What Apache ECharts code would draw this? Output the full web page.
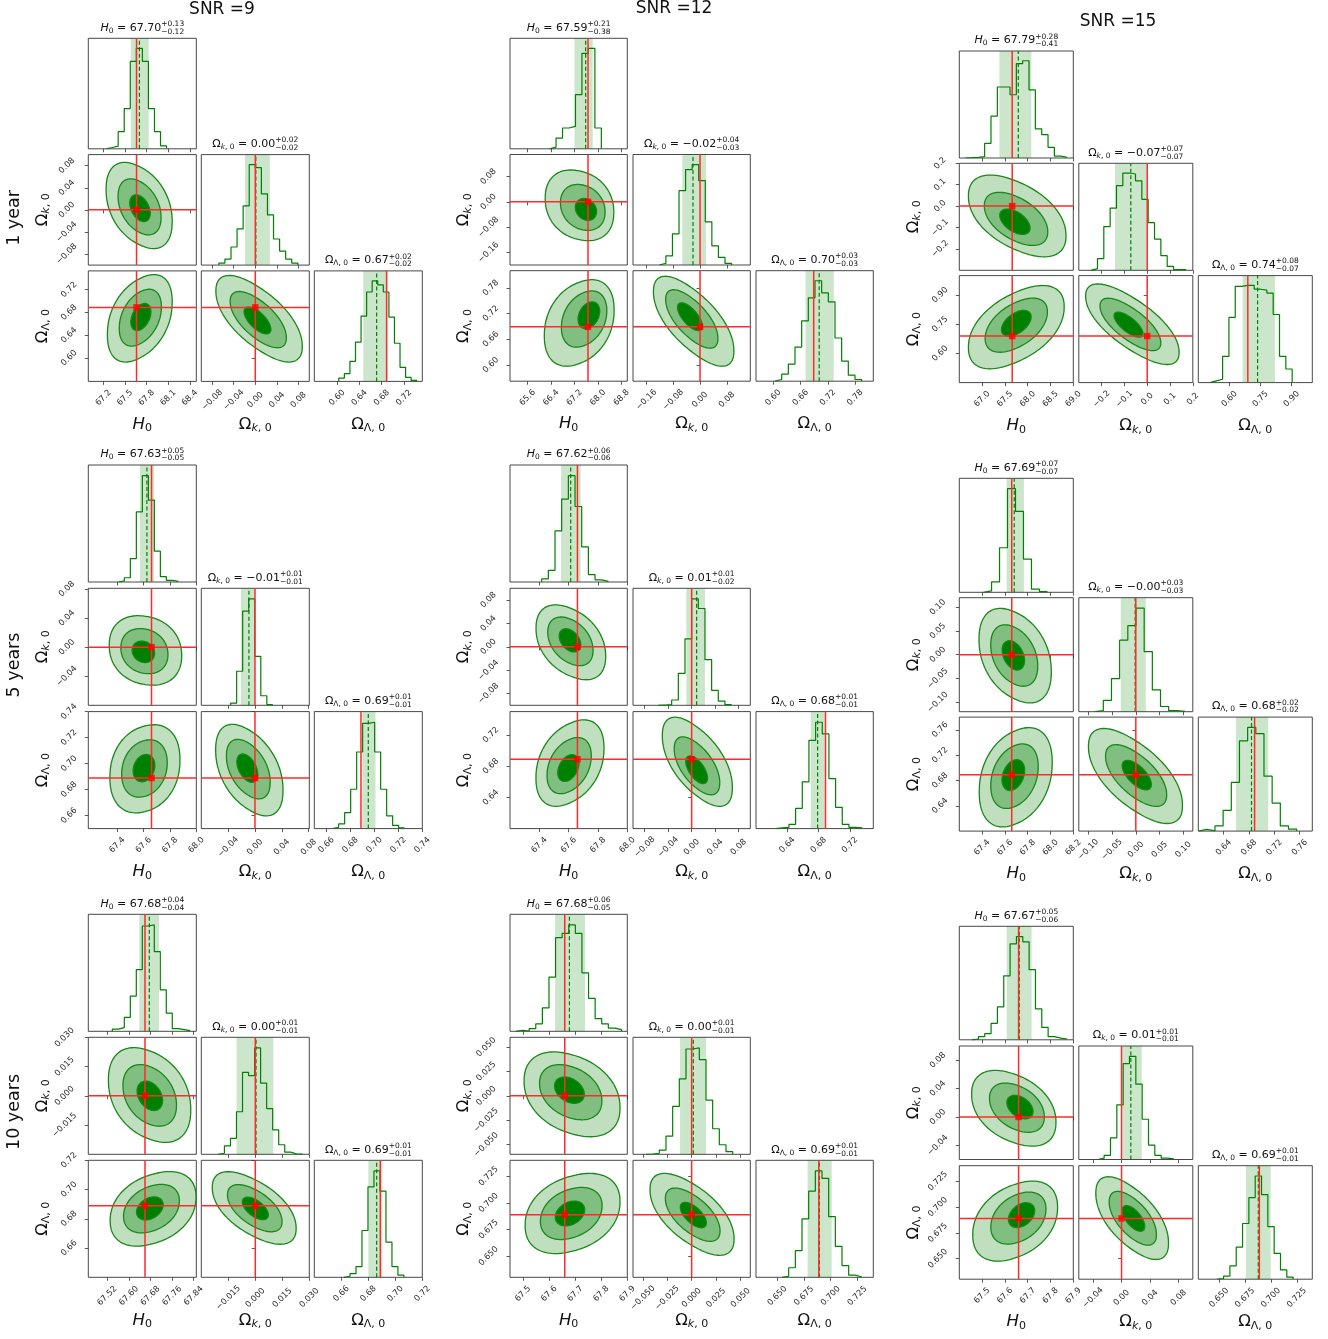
<!DOCTYPE html>
<html><head><meta charset="utf-8">
<script src="https://cdn.jsdelivr.net/npm/echarts@6.0.0/dist/echarts.min.js"></script>
<style>html,body{margin:0;padding:0;background:#fff}#c{width:1328px;height:1339px}</style>
</head><body><div id="c"></div>
<script>
// ---------------- DATA ----------------
const snrLabels = ['SNR =9', 'SNR =12', 'SNR =15'];
const durationLabels = ['1 year', '5 years', '10 years'];
const truthH0 = 67.66, truthOk = 0.0, truthOL = 0.6889;

// plots row-major: 1yr(SNR9,12,15), 5yr(...), 10yr(...)
const rangeH0 = [[66.99,68.49],[65.0,69.0],[66.5,69.0],[67.18,68.0],[67.2,68.0],[67.2,68.2],[67.45,67.85],[67.45,67.9],[67.4,67.9]];
const rangeOk = [[-0.1,0.1],[-0.2,0.15],[-0.3,0.2],[-0.08,0.081],[-0.1,0.1],[-0.12,0.12],[-0.03,0.03],[-0.06,0.06],[-0.06,0.10]];
const rangeOL = [[0.559,0.753],[0.562,0.82],[0.45,1.0],[0.65,0.74],[0.60,0.75],[0.60,0.78],[0.64,0.72],[0.63,0.74],[0.63,0.74]];

const ticksH0 = [['67.2','67.5','67.8','68.1','68.4'],['65.6','66.4','67.2','68.0','68.8'],['67.0','67.5','68.0','68.5','69.0'],
  ['67.4','67.6','67.8','68.0'],['67.4','67.6','67.8','68.0'],['67.4','67.6','67.8','68.0','68.2'],
  ['67.52','67.60','67.68','67.76','67.84'],['67.5','67.6','67.7','67.8','67.9'],['67.5','67.6','67.7','67.8','67.9']];
const ticksOk = [['-0.08','-0.04','0.00','0.04','0.08'],['-0.16','-0.08','0.00','0.08'],['-0.2','-0.1','0.0','0.1','0.2'],
  ['-0.04','0.00','0.04','0.08'],['-0.08','-0.04','0.00','0.04','0.08'],['-0.10','-0.05','0.00','0.05','0.10'],
  ['-0.015','0.000','0.015','0.030'],['-0.050','-0.025','0.000','0.025','0.050'],['-0.04','0.00','0.04','0.08']];
const ticksOL = [['0.60','0.64','0.68','0.72'],['0.60','0.66','0.72','0.78'],['0.60','0.75','0.90'],
  ['0.66','0.68','0.70','0.72','0.74'],['0.64','0.68','0.72'],['0.64','0.68','0.72','0.76'],
  ['0.66','0.68','0.70','0.72'],['0.650','0.675','0.700','0.725'],['0.650','0.675','0.700','0.725']];

const titleH0 = [['67.70','+0.13','-0.12'],['67.59','+0.21','-0.38'],['67.79','+0.28','-0.41'],['67.63','+0.05','-0.05'],['67.62','+0.06','-0.06'],['67.69','+0.07','-0.07'],['67.68','+0.04','-0.04'],['67.68','+0.06','-0.05'],['67.67','+0.05','-0.06']];
const titleOk = [['0.00','+0.02','-0.02'],['-0.02','+0.04','-0.03'],['-0.07','+0.07','-0.07'],['-0.01','+0.01','-0.01'],['0.01','+0.01','-0.02'],['-0.00','+0.03','-0.03'],['0.00','+0.01','-0.01'],['0.00','+0.01','-0.01'],['0.01','+0.01','-0.01']];
const titleOL = [['0.67','+0.02','-0.02'],['0.70','+0.03','-0.03'],['0.74','+0.08','-0.07'],['0.69','+0.01','-0.01'],['0.68','+0.01','-0.01'],['0.68','+0.02','-0.02'],['0.69','+0.01','-0.01'],['0.69','+0.01','-0.01'],['0.69','+0.01','-0.01']];

const medH0 = [67.70, 67.58, 67.794, 67.625, 67.614, 67.682, 67.676, 67.678, 67.663];
const bandH0 = [[67.58,67.83],[67.20,67.82],[67.38,68.08],[67.572,67.68],[67.548,67.682],[67.615,67.767],[67.639,67.712],[67.623,67.738],[67.608,67.717]];
const medOk = [0.001, -0.021, -0.072, -0.009, 0.0085, -0.0014, 0.0004, 0.0017, 0.013];
const bandOk = [[-0.019,0.027],[-0.053,0.018],[-0.141,-0.002],[-0.021,0.0],[-0.009,0.0227],[-0.0316,0.021],[-0.0104,0.010],[-0.0119,0.0147],[0.0013,0.0284]];
const medOL = [0.671, 0.701, 0.736, 0.695, 0.6788, 0.684, 0.6862, 0.6894, 0.6879];
const bandOL = [[0.647,0.690],[0.671,0.733],[0.664,0.82],[0.690,0.701],[0.670,0.688],[0.6595,0.7105],[0.680,0.6904],[0.6784,0.701],[0.676,0.6998]];

const histH0Start = [67.237, 66.35, 66.639, 67.408, 67.416, 67.413, 67.539, 67.473, 67.456];
const histH0Width = [0.084, 0.2206, 0.139, 0.0456, 0.0455, 0.07, 0.0222, 0.0253, 0.0278];
const histH0Counts = [
  [1.3, 2.7, 17, 40, 87, 100, 87, 40, 17, 3],
  [1.7, 10.7, 20.7, 22.3, 54, 95, 100, 20.7],
  [0.3, 0.7, 1.4, 15, 43, 73, 73, 65, 97, 100, 70, 30, 24, 11, 2, 0.7],
  [1, 4, 22, 66, 100, 77, 29, 5, 1.6, 0.6],
  [3, 11, 48, 78, 100, 71, 33, 7, 2, 0.6],
  [1.3, 10, 43, 100, 78, 32, 3, 0.6],
  [2, 3.4, 13, 33, 58, 99, 100, 75, 39, 17, 2.5, 1.6, 0.6],
  [1, 0.3, 2.5, 7, 22, 51, 88, 92, 100, 92, 55, 31, 12, 7, 3, 1.6],
  [0.6, 3, 6, 16, 32, 62, 93, 100, 95, 68, 30, 12, 3, 1.6, 0.6]];

const histOkStart = [-0.0675, -0.1215, -0.2459, -0.0363, -0.0568, -0.0856, -0.0205, -0.0467, -0.0333];
const histOkWidth = [0.01125, 0.0196, 0.0278, 0.009, 0.01136, 0.0172, 0.00335, 0.00682, 0.00889];
const histOkCounts = [
  [2, 6, 18, 36, 59, 100, 97, 71, 50, 26, 14, 6, 2],
  [1.6, 9, 31, 74, 95, 100, 84, 43, 19, 7.5, 1.6],
  [1.7, 12, 45, 64, 87, 100, 99, 92, 73, 49, 32, 15, 4, 0.7, 0.7],
  [2, 32, 88.5, 100, 46, 9, 0.6],
  [0.3, 0.6, 5, 30, 62.5, 100, 91, 43, 14, 4, 0.6],
  [1, 11, 32, 69, 83, 100, 58, 21, 5, 1, 0.3],
  [1, 8, 15, 40, 77, 74, 100, 67, 43, 23, 9, 2, 0.3, 0.3],
  [0.3, 1, 4, 17, 45, 71, 99, 100, 89, 51, 24, 9, 2.5],
  [1.3, 4, 21, 53, 93, 100, 73, 39, 14, 4, 1.3, 0.6]];

const histOLStart = [0.603, 0.6038, 0.5063, 0.6653, 0.6251, 0.6005, 0.662, 0.6544, 0.6483];
const histOLWidth = [0.01, 0.01466, 0.0305, 0.005, 0.00852, 0.0129, 0.00444, 0.00625, 0.0061];
const histOLCounts = [
  [3.3, 7.7, 20, 39, 65, 89, 100, 96, 89, 64, 38, 14, 4, 1],
  [1.7, 7, 17, 34, 60, 83, 100, 88, 79, 43, 20, 6, 1.7],
  [1.7, 3.4, 27, 67, 99, 100, 100, 96, 95, 92, 70, 27, 14],
  [1.3, 4.4, 15, 37, 72, 99, 100, 72, 37, 12, 3, 0.6],
  [0.6, 1.2, 4, 19, 44, 83, 100, 89, 47, 20, 4, 1.2, 0.6],
  [1.6, 0.3, 5, 20, 47, 87, 100, 94, 53, 27, 5, 2],
  [1, 3.4, 10, 44, 85, 100, 81, 33, 10, 2],
  [1, 9, 25, 55, 81, 100, 93, 57, 29, 11, 2, 0.3],
  [0.6, 3, 13, 31, 54, 79, 100, 82, 51, 25, 9, 2]];

// 2D credible regions: [centerX, centerY, outer half-width X, outer half-width Y, correlation, innerCenterX, innerCenterY]
const contourHK = [
  [67.696, 0.0079, 0.459, 0.078, -0.38, 67.708, 0.003],
  [67.37, -0.011, 1.17, 0.112, -0.2, 67.59, -0.024],
  [67.77, -0.046, 1.07, 0.191, -0.5, 67.72, -0.073],
  [67.614, -0.0045, 0.275, 0.0478, -0.15, 67.598, -0.0064],
  [67.615, 0.0077, 0.2375, 0.064, -0.38, 67.609, 0.011],
  [67.69, -0.002, 0.317, 0.0995, -0.35, 67.674, -0.0014],
  [67.677, 0.0004, 0.1525, 0.0243, -0.32, 67.678, 0.0],
  [67.688, 0.0015, 0.184, 0.0435, -0.32, 67.678, 0.0058],
  [67.639, 0.0122, 0.185, 0.0534, -0.38, 67.666, 0.0139]];
const contourHL = [
  [67.705, 0.6698, 0.45, 0.0768, 0.38, 67.72, 0.672],
  [67.36, 0.698, 1.19, 0.101, 0.3, 67.69, 0.716],
  [67.75, 0.735, 1.05, 0.214, 0.5, 67.75, 0.755],
  [67.61, 0.696, 0.266, 0.0339, 0.2, 67.603, 0.6965],
  [67.609, 0.684, 0.232, 0.0554, 0.35, 67.598, 0.6776],
  [67.695, 0.685, 0.32, 0.0784, 0.3, 67.674, 0.6884],
  [67.69, 0.6868, 0.159, 0.0255, 0.32, 67.678, 0.6871],
  [67.69, 0.69, 0.182, 0.0377, 0.3, 67.68, 0.69],
  [67.645, 0.6863, 0.186, 0.0388, 0.35, 67.673, 0.6921]];
const contourKL = [
  [0.007, 0.669, 0.080, 0.076, -0.66, 0.004, 0.666],
  [-0.019, 0.702, 0.12, 0.105, -0.68, -0.03, 0.7125],
  [-0.065, 0.75, 0.205, 0.207, -0.72, -0.082, 0.748],
  [-0.0084, 0.695, 0.0502, 0.0352, -0.45, -0.0114, 0.6965],
  [0.0097, 0.6857, 0.0597, 0.0571, -0.6, 0.0085, 0.6754],
  [-0.0007, 0.687, 0.099, 0.075, -0.64, 0.002, 0.6884],
  [-0.0006, 0.6874, 0.0233, 0.0248, -0.58, 0.0, 0.6871],
  [0.0004, 0.6892, 0.043, 0.0385, -0.62, 0.0017, 0.6885],
  [0.0149, 0.6892, 0.051, 0.0401, -0.62, 0.0167, 0.6889]];
const contourScales = [1, 0.65, 0.31];

// ---------------- LAYOUT ----------------
const plotLeft = [88.3, 510, 959.3, 88.3, 510, 959.3, 88.3, 510, 959.3];
const plotTop = [38.3, 38.3, 51, 465, 465, 478.3, 914.3, 914.3, 926.3];
const panelW = [108, 117.3, 114, 108, 117.3, 114, 108, 117.3, 114];
const panelH = [110.5, 110.5, 107, 117, 117, 114, 117, 117, 113.5];
const stepX = [113, 123, 119.5, 113, 123, 119.5, 113, 123, 119.5];
const stepY = [116.3, 116.2, 112.3, 123.3, 123.3, 119.4, 123, 123, 119.7];
const snrPos = [[222, 10], [674, 9], [1118, 22]];
const durPos = [[14, 218], [14, 665], [14, 1112]];

// ---------------- STYLES ----------------
const FONT = '"DejaVu Sans"';
const GREEN = 'rgb(0,128,0)';
const LINEGREEN = 'rgb(25,135,25)';
const RED = '#ff2a2a';
const FILLS = ['rgb(191,223,191)', 'rgb(128,191,128)', 'rgb(0,128,0)'];
const SHAPE_POW = [2.2, 2.12, 2.0];

const mctx = document.createElement('canvas').getContext('2d');
function tw(text, size, italic) { mctx.font = (italic ? 'italic ' : '') + size + 'px ' + FONT; return mctx.measureText(text).width; }
function fmt(s) { return s.replace('-', '\u2212'); }

const grids = [], xAxes = [], yAxes = [], series = [], graphics = [];

function labelCfg(ticks, show, isY) {
  const vals = ticks.map(parseFloat);
  const maxLen = Math.max(...ticks.map(s => s.length));
  return {
    show: show, customValues: vals, rotate: 45, align: 'center', verticalAlign: 'middle',
    margin: isY ? 10 + 2.3 * maxLen : 8 + 2.1 * maxLen, fontSize: 8.3, fontFamily: FONT, color: '#2a2a2a',
    hideOverlap: false, showMinLabel: true, showMaxLabel: true,
    formatter: function (v) { const i = vals.findIndex(t => Math.abs(t - v) < 1e-9); return i >= 0 ? fmt(ticks[i]) : ''; }
  };
}
function valAxis(gi, range, ticks, showTicks, showLabels, isY) {
  return {
    type: 'value', gridIndex: gi, min: range[0], max: range[1], scale: true,
    axisLine: { show: false }, splitLine: { show: false },
    axisTick: { show: showTicks, customValues: ticks.map(parseFloat), length: 3.5, lineStyle: { color: '#333', width: 0.8 } },
    axisLabel: labelCfg(ticks, showLabels, isY)
  };
}

function symFrags(v, F, f, d) {
  if (v === 'H') return [{ t: 'H', s: F, i: true, dy: 0 }, { t: '0', s: f, dy: d }];
  if (v === 'K') return [{ t: '\u03A9', s: F, dy: 0 }, { t: 'k', s: f, i: true, dy: d }, { t: ', 0', s: f, dy: d }];
  return [{ t: '\u03A9', s: F, dy: 0 }, { t: '\u039B, 0', s: f, dy: d }];
}
function makeGroup(frags, cx, cy, rot) {
  let total = 0;
  const ws = frags.map(fr => {
    const w = fr.stack ? Math.max(...fr.stack.map(q => tw(q.t, q.s, q.i))) : tw(fr.t, fr.s, fr.i);
    total += w; return w;
  });
  let x = -total / 2; const children = [];
  frags.forEach((fr, idx) => {
    (fr.stack ? fr.stack : [fr]).forEach(q => children.push({
      type: 'text', x: x, y: q.dy || 0, silent: true,
      style: { text: q.t, font: (q.i ? 'italic ' : '') + q.s + 'px ' + FONT, fill: '#111',
        textAlign: 'left', textVerticalAlign: 'middle', align: 'left', verticalAlign: 'middle' }
    }));
    x += ws[idx];
  });
  return { type: 'group', x: cx, y: cy, rotation: rot || 0, silent: true, children: children };
}

function spow(v, e) { return Math.sign(v) * Math.pow(Math.abs(v), e); }
function contourRenderer(par) {
  return function (params, api) {
    const [cx, cy, hx, hy, rho, icx, icy] = par;
    const sq = Math.sqrt(1 - rho * rho);
    const children = [];
    contourScales.forEach((s, i) => {
      const f = (s - 0.31) / 0.69;
      const ccx = icx + (cx - icx) * f, ccy = icy + (cy - icy) * f;
      const e = 2 / SHAPE_POW[i];
      const N = 120, us = [];
      let ymax = 0;
      for (let j = 0; j < N; j++) {
        const t = j / N * 2 * Math.PI;
        const c = spow(Math.cos(t), e), sn = spow(Math.sin(t), e);
        const yy = rho * c + sq * sn;
        ymax = Math.max(ymax, Math.abs(yy));
        us.push([c, yy]);
      }
      const pts = us.map(u => api.coord([ccx + s * hx * u[0], ccy + s * hy * u[1] / ymax]));
      children.push({ type: 'polygon', shape: { points: pts }, style: { fill: FILLS[i], stroke: LINEGREEN, lineWidth: 1.3 } });
    });
    return { type: 'group', children: children };
  };
}

const vars = {
  H: { range: rangeH0, ticks: ticksH0, truth: truthH0, start: histH0Start, width: histH0Width, counts: histH0Counts, med: medH0, band: bandH0, title: titleH0 },
  K: { range: rangeOk, ticks: ticksOk, truth: truthOk, start: histOkStart, width: histOkWidth, counts: histOkCounts, med: medOk, band: bandOk, title: titleOk },
  L: { range: rangeOL, ticks: ticksOL, truth: truthOL, start: histOLStart, width: histOLWidth, counts: histOLCounts, med: medOL, band: bandOL, title: titleOL }
};
const contours = { HK: contourHK, HL: contourHL, KL: contourKL };
const panelDefs = [
  { r: 0, c: 0, x: 'H', y: null }, { r: 1, c: 0, x: 'H', y: 'K' }, { r: 1, c: 1, x: 'K', y: null },
  { r: 2, c: 0, x: 'H', y: 'L' }, { r: 2, c: 1, x: 'K', y: 'L' }, { r: 2, c: 2, x: 'L', y: null }];

for (let p = 0; p < 9; p++) {
  panelDefs.forEach((d, k) => {
    const gi = p * 6 + k;
    const left = plotLeft[p] + d.c * stepX[p], top = plotTop[p] + d.r * stepY[p];
    grids.push({ left: left, top: top, width: panelW[p], height: panelH[p], show: true, borderColor: '#333', borderWidth: 0.9, backgroundColor: 'transparent', containLabel: false });
    const X = vars[d.x];
    xAxes.push(valAxis(gi, X.range[p], X.ticks[p], true, d.r === 2, false));
    const base = { xAxisIndex: gi, yAxisIndex: gi, silent: true, animation: false };
    if (!d.y) {
      yAxes.push({ type: 'value', gridIndex: gi, min: 0, max: 110, show: false, splitLine: { show: false } });
      const band = X.band[p];
      series.push(Object.assign({ type: 'custom', z: 1, data: [[band[0], band[1]]],
        renderItem: function (params, api) {
          const a = api.coord([api.value(0), 110]), b = api.coord([api.value(1), 0]);
          return { type: 'rect', shape: { x: a[0], y: a[1], width: b[0] - a[0], height: b[1] - a[1] }, style: { fill: 'rgba(0,128,0,0.2)' } };
        } }, base));
      const cnt = X.counts[p], st = X.start[p], w = X.width[p];
      const hd = [[st, 0]];
      cnt.forEach((c, i) => hd.push([st + i * w, c]));
      hd.push([st + cnt.length * w, 0]);
      series.push(Object.assign({ type: 'line', z: 3, step: 'end', symbol: 'none', data: hd, lineStyle: { color: GREEN, width: 1.2 } }, base));
      series.push(Object.assign({ type: 'line', z: 4, symbol: 'none', data: [[X.med[p], 0], [X.med[p], 110]], lineStyle: { color: GREEN, width: 1.2, type: [4, 2.5] } }, base));
      series.push(Object.assign({ type: 'line', z: 5, symbol: 'none', data: [[X.truth, 0], [X.truth, 110]], lineStyle: { color: RED, width: 1.5 } }, base));
      const tt = X.title[p];
      const frags = symFrags(d.x, 11, 7.5, 2.8).concat([{ t: ' = ' + fmt(tt[0]), s: 11, dy: 0 },
        { stack: [{ t: tt[1], s: 7.5, dy: -3.8 }, { t: fmt(tt[2]), s: 7.5, dy: 3.8 }] }]);
      graphics.push(makeGroup(frags, left + panelW[p] / 2, top - 10.5, 0));
    } else {
      const Y = vars[d.y];
      yAxes.push(valAxis(gi, Y.range[p], Y.ticks[p], true, d.c === 0, true));
      const par = contours[d.x + d.y][p];
      series.push(Object.assign({ type: 'custom', z: 2, clip: true, data: [[par[0], par[1]]], renderItem: contourRenderer(par) }, base));
      series.push(Object.assign({ type: 'line', z: 5, symbol: 'none', data: [[X.truth, Y.range[p][0]], [X.truth, Y.range[p][1]]], lineStyle: { color: RED, width: 1.5 } }, base));
      series.push(Object.assign({ type: 'line', z: 5, symbol: 'none', data: [[X.range[p][0], Y.truth], [X.range[p][1], Y.truth]], lineStyle: { color: RED, width: 1.5 } }, base));
      series.push(Object.assign({ type: 'scatter', z: 6, symbol: 'rect', symbolSize: 6.5, data: [[X.truth, Y.truth]], itemStyle: { color: '#ff0000' } }, base));
    }
    if (d.r === 2) graphics.push(makeGroup(symFrags(d.x, 16.5, 11, 4.2), left + panelW[p] / 2, top + panelH[p] + 43, 0));
    if (d.c === 0 && d.y) graphics.push(makeGroup(symFrags(d.y, 16.5, 11, 4.2), left - 46, top + panelH[p] / 2, Math.PI / 2));
  });
}
snrLabels.forEach((s, i) => graphics.push(makeGroup([{ t: s, s: 17, dy: 0 }], snrPos[i][0], snrPos[i][1], 0)));
durationLabels.forEach((s, i) => graphics.push(makeGroup([{ t: s, s: 17.5, dy: 0 }], durPos[i][0], durPos[i][1], Math.PI / 2)));

const chart = echarts.init(document.getElementById('c'), null, { renderer: 'canvas' });
chart.setOption({ animation: false, backgroundColor: '#fff', grid: grids, xAxis: xAxes, yAxis: yAxes, series: series, graphic: graphics });
</script></body></html>
